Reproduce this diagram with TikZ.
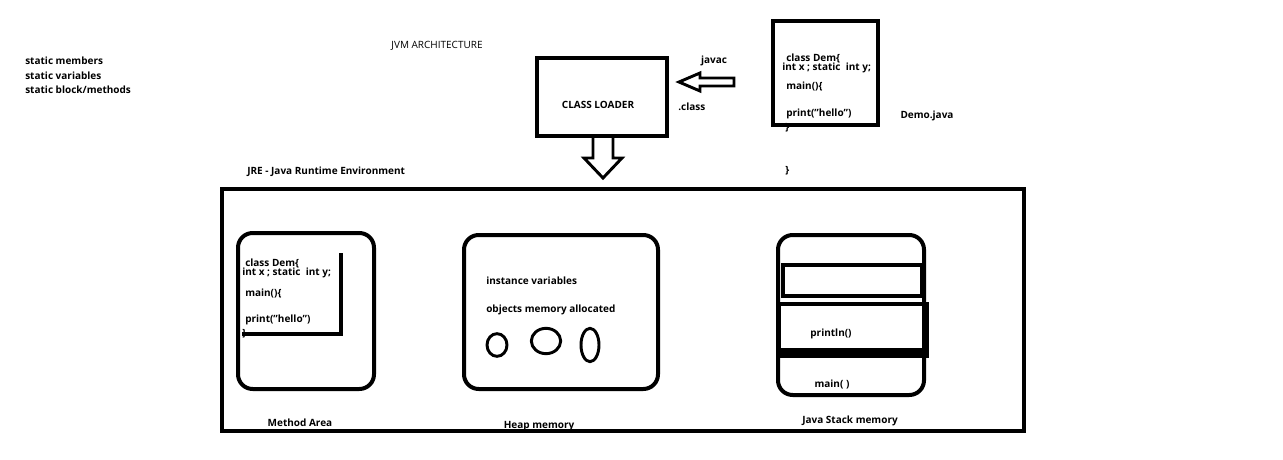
\documentclass[tikz,border=0pt]{standalone}
\usepackage{fontspec}
\setmainfont{Open Sans}
\usetikzlibrary{shapes.geometric,calc}

\tikzset{
	box/.style={draw, line width=3pt, inner sep=0pt},
	roundbox/.style={box, rounded corners=11pt},
	lbl/.style={inner sep=0pt, yshift=-1.5pt, font=\fontsize{7.5}{9}\selectfont\bfseries},
	hollow/.style={draw, line width=2.2pt, line join=miter},
	blob/.style={draw, ellipse, line width=2.2pt, inner sep=0pt},
}

\begin{document}
\begin{tikzpicture}[x=0.75pt,y=-0.75pt]
	\useasboundingbox (0,0) rectangle (1283,460);

	% headings
	\node[lbl, anchor=north west, align=left, font=\fontsize{7.5}{10.9}\selectfont\bfseries] (statics) at (25,55)
		{static members\\static variables\\static block/methods};
	\node[lbl, font=\fontsize{7.5}{9}\selectfont] (title) at (437,44) {JVM ARCHITECTURE};

	% class loader and source file
	\node[box, minimum width=97.5pt, minimum height=58.5pt] (loader) at (602,97) {};
	\node[lbl] (loadertext) at (598,103) {CLASS LOADER};
	\node[box, minimum width=78.75pt, minimum height=78pt] (demo) at (825.5,73) {};
	\node[lbl, anchor=west] (d1) at (786,56) {class Dem\{};
	\node[lbl, anchor=west] (d2) at (782,66) {int x ; static\ \ int y;};
	\node[lbl, anchor=west] (d3) at (786,84) {main()\{};
	\node[lbl, anchor=west] (d4) at (786,112) {print("hello")};
	\node[lbl, anchor=west] (d5) at (785,126) {\}};
	\node[lbl, anchor=west] (d6) at (785,169) {\}};
	\node[lbl] (demoname) at (927,114) {Demo.java};
	\node[lbl] (javac) at (714,59) {javac};
	\node[lbl, anchor=west] (dotclass) at (678,105) {.class};

	% hollow arrows
	\draw[hollow] ($(demo.west)+(-37,5)$) -- ++(-34,0) -- ++(0,-5) -- ++(-21,9)
		-- ++(21,9) -- ++(0,-5) -- ++(34,0) -- cycle;
	\draw[hollow] ($(loader.south)+(-9,0)$) -- ++(0,20) -- ++(-9,0) -- ++(19,20)
		-- ++(19,-20) -- ++(-9,0) -- ++(0,-20);

	% runtime environment
	\node[lbl, anchor=west] (jrename) at (247,170) {JRE - Java Runtime Environment};
	\node[box, minimum width=601.5pt, minimum height=181.5pt] (jre) at (623,310) {};

	% method area
	\node[roundbox, minimum width=102pt, minimum height=117pt] (method) at (306,311) {};
	\draw[line width=3pt] (341,253) |- (242,334);
	\node[lbl, anchor=west] (m1) at (245,261) {class Dem\{};
	\node[lbl, anchor=west] (m2) at (242,271) {int x ; static\ \ int y;};
	\node[lbl, anchor=west] (m3) at (245,291) {main()\{};
	\node[lbl, anchor=west] (m4) at (245,318) {print("hello")};
	\node[lbl, anchor=west] (m5) at (242,332) {\}};
	\node[lbl] (methodname) at (300,421) {Method Area};

	% heap
	\node[roundbox, minimum width=145.5pt, minimum height=115.5pt] (heap) at (561,312) {};
	\node[lbl, anchor=west] (h1) at (486,279) {instance variables};
	\node[lbl, anchor=west] (h2) at (486,308) {objects memory allocated};
	\node[blob, minimum width=15pt, minimum height=17pt] (obja) at (497,345) {};
	\node[blob, minimum width=22pt, minimum height=19pt] (objb) at (546,341) {};
	\node[blob, minimum width=13.5pt, minimum height=25pt] (objc) at (590,345) {};
	\node[lbl] (heapname) at (539,424) {Heap memory};

	% stack
	\node[roundbox, minimum width=109.5pt, minimum height=120pt] (stack) at (851,315) {};
	\node[box, minimum width=104pt, minimum height=23.5pt] (frametop) at (852.5,280.5) {};
	\node[box, minimum width=111pt, minimum height=35pt] (framemid) at (853,327.5) {};
	\draw[line width=7.5pt] (framemid.south west) -- (framemid.south east);
	\node[lbl] (println) at (831,332) {println()};
	\node[lbl] (mainframe) at (832,382) {main( )};
	\node[lbl] (stackname) at (850,419) {Java Stack memory};
\end{tikzpicture}
\end{document}
